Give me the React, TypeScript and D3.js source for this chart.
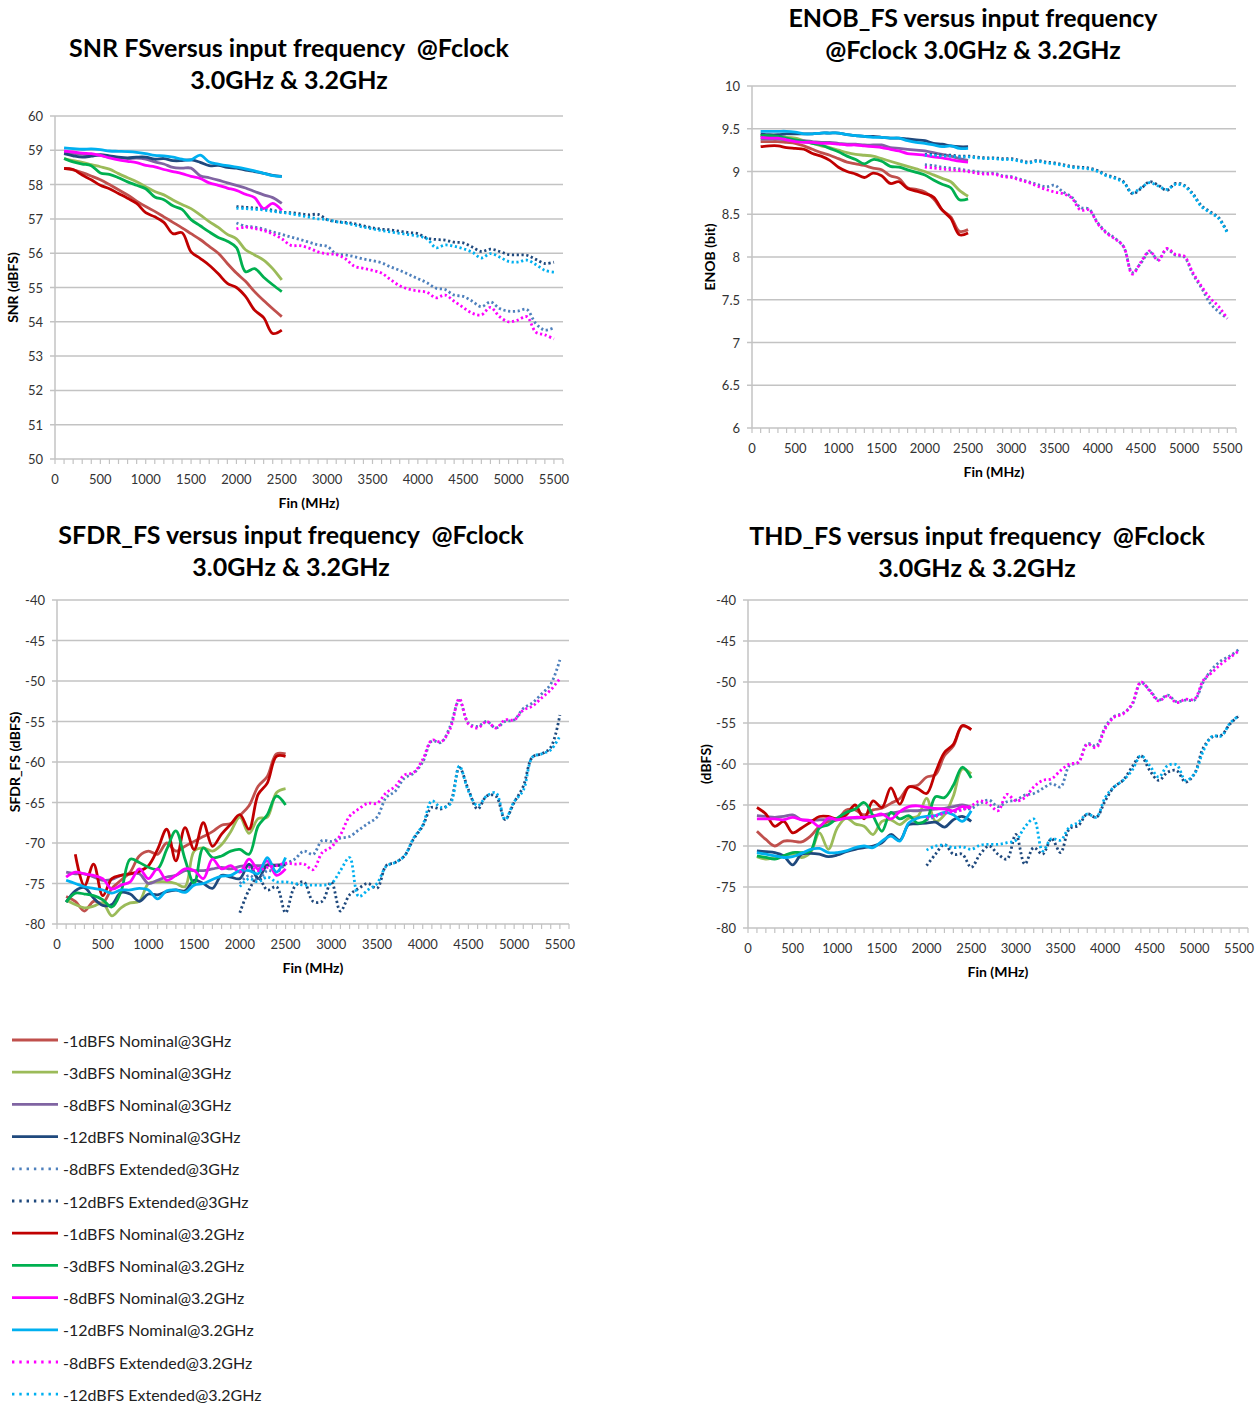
import React from 'react';
import * as d3 from 'd3';

// frequencies (MHz)
const FREQ_NOMINAL = [100, 200, 300, 400, 500, 600, 700, 800, 900, 1000, 1100, 1200, 1300, 1400, 1500, 1600, 1700, 1800, 1900, 2000, 2100, 2200, 2300, 2400, 2500];
const FREQ_EXTENDED = [2000, 2100, 2200, 2300, 2400, 2500, 2600, 2700, 2800, 2900, 3000, 3100, 3200, 3300, 3400, 3500, 3600, 3700, 3800, 3900, 4000, 4100, 4200, 4300, 4400, 4500, 4600, 4700, 4800, 4900, 5000, 5100, 5200, 5300, 5400, 5500];
const X_TICKS = [0, 500, 1000, 1500, 2000, 2500, 3000, 3500, 4000, 4500, 5000, 5500];

const SERIES_NAMES = [
  '-1dBFS Nominal@3GHz', '-3dBFS Nominal@3GHz', '-8dBFS Nominal@3GHz', '-12dBFS Nominal@3GHz',
  '-8dBFS Extended@3GHz', '-12dBFS Extended@3GHz',
  '-1dBFS Nominal@3.2GHz', '-3dBFS Nominal@3.2GHz', '-8dBFS Nominal@3.2GHz', '-12dBFS Nominal@3.2GHz',
  '-8dBFS Extended@3.2GHz', '-12dBFS Extended@3.2GHz',
];
const SERIES_EXTENDED = [false, false, false, false, true, true, false, false, false, false, true, true];
const SERIES_COLORS = ['#C0504D', '#9BBB59', '#8064A2', '#1F497D', '#4F81BD', '#1F497D', '#C00000', '#00B050', '#FF00FF', '#00B0F0', '#FF00FF', '#00B0F0'];

// SNR (dBFS), legend order
const snrValues = [
  [58.47, 58.43, 58.35, 58.25, 58.14, 58.0, 57.85, 57.7, 57.52, 57.36, 57.22, 57.06, 56.9, 56.74, 56.57, 56.4, 56.2, 56.0, 55.7, 55.42, 55.18, 54.88, 54.62, 54.38, 54.15],
  [58.76, 58.7, 58.65, 58.58, 58.52, 58.45, 58.32, 58.2, 58.08, 57.94, 57.8, 57.7, 57.55, 57.42, 57.3, 57.12, 56.92, 56.75, 56.55, 56.42, 56.1, 55.95, 55.8, 55.55, 55.22],
  [58.93, 58.9, 58.88, 58.87, 58.85, 58.8, 58.78, 58.76, 58.77, 58.74, 58.66, 58.6, 58.5, 58.48, 58.48, 58.26, 58.2, 58.13, 58.05, 57.98, 57.9, 57.8, 57.7, 57.62, 57.45],
  [58.9, 58.84, 58.8, 58.83, 58.87, 58.84, 58.8, 58.78, 58.8, 58.8, 58.74, 58.76, 58.7, 58.7, 58.72, 58.65, 58.55, 58.56, 58.5, 58.48, 58.42, 58.38, 58.33, 58.27, 58.24],
  [56.88, 56.79, 56.76, 56.7, 56.62, 56.55, 56.47, 56.4, 56.32, 56.24, 56.2, 55.98, 55.95, 55.9, 55.83, 55.78, 55.72, 55.6, 55.5, 55.38, 55.26, 55.14, 54.98, 54.94, 54.78, 54.74, 54.6, 54.44, 54.58, 54.39, 54.31, 54.31, 54.36, 53.95, 53.76, 53.83],
  [57.36, 57.34, 57.32, 57.3, 57.25, 57.2, 57.18, 57.15, 57.12, 57.13, 56.98, 56.92, 56.9, 56.86, 56.8, 56.74, 56.7, 56.68, 56.64, 56.6, 56.57, 56.44, 56.4, 56.38, 56.32, 56.3, 56.18, 56.05, 56.12, 56.05, 55.96, 55.95, 55.94, 55.82, 55.7, 55.74],
  [58.47, 58.44, 58.28, 58.14, 57.98, 57.88, 57.74, 57.6, 57.45, 57.18, 57.06, 56.9, 56.57, 56.6, 56.04, 55.85, 55.65, 55.4, 55.12, 55.0, 54.74, 54.34, 54.12, 53.66, 53.76],
  [58.76, 58.66, 58.6, 58.55, 58.34, 58.3, 58.2, 58.08, 57.98, 57.88, 57.64, 57.56, 57.38, 57.28, 56.98, 56.8, 56.62, 56.46, 56.35, 56.16, 55.46, 55.55, 55.3, 55.08, 54.88],
  [58.98, 58.95, 58.92, 58.9, 58.85, 58.78, 58.72, 58.68, 58.64, 58.56, 58.52, 58.44, 58.38, 58.32, 58.24, 58.18, 58.05, 57.98, 57.9, 57.83, 57.72, 57.62, 57.3, 57.45, 57.25],
  [59.07, 59.05, 59.03, 59.04, 59.02, 58.98, 58.97, 58.96, 58.94, 58.9, 58.85, 58.84, 58.8, 58.74, 58.72, 58.86, 58.66, 58.6, 58.55, 58.51, 58.46, 58.4, 58.33, 58.26, 58.23],
  [56.71, 56.76, 56.72, 56.66, 56.56, 56.42, 56.23, 56.22, 56.15, 56.04, 55.98, 55.96, 55.84, 55.62, 55.56, 55.5, 55.42, 55.23, 55.05, 54.95, 54.9, 54.86, 54.7, 54.78, 54.6, 54.42, 54.25, 54.2, 54.42, 54.15, 54.0, 54.05, 54.15, 53.7, 53.62, 53.5],
  [57.31, 57.3, 57.28, 57.26, 57.22, 57.19, 57.15, 57.1, 57.05, 57.0, 56.98, 56.92, 56.88, 56.82, 56.76, 56.71, 56.66, 56.62, 56.58, 56.54, 56.5, 56.42, 56.16, 56.24, 56.2, 56.13, 56.03, 55.86, 55.99, 55.89, 55.76, 55.74, 55.8, 55.67, 55.5, 55.45],
];

// ENOB (bit)
const enobValues = [
  [9.35, 9.35, 9.35, 9.34, 9.33, 9.3, 9.26, 9.22, 9.19, 9.15, 9.11, 9.09, 9.07, 9.04, 9.02, 8.95, 8.92, 8.81, 8.79, 8.76, 8.68, 8.55, 8.47, 8.3, 8.32],
  [9.42, 9.41, 9.4, 9.4, 9.39, 9.36, 9.33, 9.3, 9.28, 9.25, 9.22, 9.2, 9.19, 9.18, 9.15, 9.12, 9.09, 9.06, 9.03, 9.0, 8.96, 8.92, 8.88, 8.78, 8.71],
  [9.38, 9.38, 9.38, 9.37, 9.36, 9.36, 9.35, 9.34, 9.34, 9.33, 9.32, 9.32, 9.31, 9.31, 9.31, 9.28, 9.27, 9.26, 9.25, 9.24, 9.22, 9.2, 9.18, 9.15, 9.13],
  [9.44, 9.43, 9.43, 9.44, 9.44, 9.44, 9.44, 9.45, 9.45, 9.45, 9.43, 9.42, 9.41, 9.41, 9.4, 9.39, 9.39, 9.38, 9.37, 9.36, 9.33, 9.32, 9.3, 9.29, 9.29],
  [9.08, 9.07, 9.05, 9.04, 9.03, 9.01, 9.0, 8.98, 8.98, 8.95, 8.94, 8.91, 8.88, 8.85, 8.82, 8.84, 8.76, 8.7, 8.58, 8.56, 8.4, 8.29, 8.22, 8.12, 7.82, 7.93, 8.06, 7.97, 8.09, 8.02, 8.0, 7.8, 7.64, 7.46, 7.36, 7.28],
  [9.2, 9.2, 9.19, 9.19, 9.18, 9.18, 9.17, 9.16, 9.16, 9.15, 9.15, 9.13, 9.11, 9.13, 9.11, 9.1, 9.08, 9.06, 9.05, 9.04, 9.01, 8.96, 8.93, 8.88, 8.74, 8.8, 8.88, 8.84, 8.78, 8.86, 8.84, 8.74, 8.6, 8.53, 8.46, 8.29],
  [9.29, 9.3, 9.3, 9.28, 9.27, 9.26, 9.21, 9.18, 9.13, 9.05, 9.0, 8.97, 8.93, 8.98, 8.95, 8.86, 8.88, 8.8, 8.77, 8.74, 8.7, 8.55, 8.45, 8.26, 8.28],
  [9.42, 9.42, 9.41, 9.39, 9.37, 9.35, 9.33, 9.31, 9.27, 9.23, 9.18, 9.14, 9.09, 9.14, 9.12, 9.06, 9.05, 9.02, 8.99, 8.96, 8.9, 8.85, 8.81, 8.67, 8.68],
  [9.4, 9.39, 9.39, 9.37, 9.35, 9.34, 9.34, 9.33, 9.33, 9.32, 9.31, 9.31, 9.3, 9.29, 9.28, 9.26, 9.24, 9.21, 9.2, 9.19, 9.17, 9.16, 9.14, 9.12, 9.11],
  [9.47, 9.47, 9.47, 9.47, 9.46, 9.44, 9.44, 9.45, 9.45, 9.45, 9.43, 9.42, 9.41, 9.4, 9.4, 9.39, 9.39, 9.36, 9.34, 9.33, 9.31, 9.29, 9.3, 9.27, 9.27],
  [9.05, 9.04, 9.03, 9.02, 9.01, 9.0, 8.98, 8.97, 8.97, 8.94, 8.93, 8.9, 8.87, 8.83, 8.79, 8.76, 8.74, 8.69, 8.55, 8.55, 8.39, 8.28, 8.21, 8.12, 7.8, 7.94, 8.07, 7.96, 8.1, 8.03, 8.01, 7.82, 7.66, 7.52, 7.42, 7.28],
  [9.19, 9.19, 9.18, 9.18, 9.17, 9.17, 9.16, 9.15, 9.15, 9.14, 9.14, 9.12, 9.1, 9.12, 9.1, 9.09, 9.07, 9.05, 9.04, 9.03, 9.0, 8.95, 8.92, 8.87, 8.75, 8.81, 8.87, 8.83, 8.79, 8.85, 8.83, 8.73, 8.59, 8.52, 8.45, 8.28],
];

// SFDR_FS (dBFS)
const sfdrValues = [
  [-76.6, -77.2, -78.4, -77.2, -77.4, -75.6, -74.6, -73.6, -71.6, -71.0, -71.4, -70.0, -71.0, -70.4, -69.8, -69.2, -68.6, -67.8, -67.6, -66.6, -65.4, -63.0, -61.8, -59.0, -59.0],
  [-77.0, -77.6, -78.0, -77.8, -77.4, -79.0, -78.0, -77.4, -77.2, -75.0, -74.8, -74.8, -75.0, -75.4, -71.0, -70.6, -71.0, -70.2, -68.6, -66.8, -68.8, -67.0, -66.8, -63.8, -63.3],
  [-73.6, -73.8, -73.8, -74.2, -74.6, -74.5, -74.0, -73.8, -73.8, -75.0, -74.6, -74.2, -74.0, -73.4, -73.4, -73.4, -73.2, -73.0, -73.2, -72.9, -72.8, -72.8, -72.8, -72.7, -72.6],
  [-77.3, -75.9, -75.5, -76.8, -77.7, -77.6, -76.1, -76.3, -77.2, -76.3, -76.4, -76.0, -75.8, -75.9, -74.6, -75.0, -75.6, -74.0, -74.2, -74.4, -72.6, -74.4, -72.7, -72.8, -72.7],
  [-75.0, -74.0, -74.6, -73.4, -73.6, -72.6, -72.0, -71.0, -71.4, -69.7, -69.8, -69.4, -69.2, -68.4, -67.6, -66.8, -64.4, -63.6, -62.0, -61.4, -60.0, -57.4, -57.6, -55.6, -52.4, -55.2, -55.6, -55.0, -55.8, -55.0, -54.8, -53.4, -52.7, -51.6, -50.4, -47.4],
  [-78.6, -75.8, -74.2, -75.8, -75.4, -78.6, -75.4, -74.8, -77.2, -77.2, -74.8, -78.4, -76.4, -75.6, -75.0, -75.6, -72.8, -72.4, -71.6, -69.5, -67.9, -65.6, -65.8, -65.0, -60.7, -63.4, -65.8, -64.2, -64.2, -67.1, -65.0, -63.0, -59.4, -59.0, -58.2, -54.2],
  [null, -71.4, -75.3, -72.6, -76.5, -74.4, -74.0, -73.8, -73.5, -72.8, -70.8, -68.3, -72.2, -68.1, -70.8, -67.5, -70.4, -68.9, -67.7, -66.5, -68.3, -64.0, -62.6, -59.3, -59.3],
  [-77.3, -76.2, -76.3, -76.5, -77.0, -77.9, -76.0, -72.0, -72.4, -73.0, -73.2, -70.8, -68.5, -72.0, -75.0, -70.6, -71.8, -71.6, -71.0, -70.8, -71.4, -67.9, -66.5, -64.2, -65.3],
  [-74.2, -73.6, -73.8, -74.0, -74.4, -75.7, -75.2, -74.8, -73.2, -74.4, -73.2, -74.6, -74.0, -73.2, -73.4, -74.4, -72.0, -73.2, -72.8, -73.6, -72.0, -73.2, -72.2, -74.0, -73.2],
  [-74.6, -75.0, -75.4, -75.6, -75.8, -76.2, -75.8, -75.8, -75.6, -75.8, -76.9, -75.9, -75.8, -76.1, -75.2, -75.0, -74.5, -74.1, -74.0, -73.4, -73.4, -73.8, -71.8, -73.6, -71.8],
  [-73.6, -73.0, -73.4, -73.0, -72.8, -72.5, -72.6, -72.6, -73.3, -71.2, -70.5, -69.0, -66.7, -65.8, -65.1, -65.1, -63.8, -63.0, -61.6, -61.3, -59.7, -57.3, -57.5, -55.9, -52.2, -55.3, -55.8, -55.0, -55.8, -54.8, -54.8, -53.6, -53.1, -52.1, -51.1, -49.7],
  [-75.4, -74.4, -74.8, -74.2, -74.8, -74.8, -75.0, -75.2, -75.2, -75.2, -75.0, -73.4, -71.8, -76.6, -75.8, -75.0, -72.9, -72.4, -71.6, -69.4, -67.8, -64.8, -65.6, -65.2, -60.5, -63.6, -65.4, -64.2, -63.8, -67.1, -64.9, -63.5, -59.4, -59.0, -58.5, -56.8],
];

// THD_FS (dBFS)
const thdValues = [
  [-68.2, -69.2, -70.0, -69.4, -69.4, -69.5, -68.8, -67.6, -67.0, -66.8, -65.6, -65.6, -66.2, -65.6, -65.4, -64.8, -64.2, -62.8, -62.6, -61.6, -61.3, -59.0, -57.8, -55.4, -55.8],
  [-71.3, -71.6, -71.4, -71.2, -71.0, -71.4, -70.8, -68.4, -70.4, -67.8, -66.6, -67.3, -67.6, -68.6, -67.0, -66.8, -67.4, -66.6, -66.4, -64.2, -67.0, -66.2, -63.9, -60.6, -61.2],
  [-66.3, -66.4, -66.5, -66.4, -66.2, -66.8, -66.9, -66.8, -66.8, -66.7, -66.6, -66.6, -66.5, -66.3, -66.2, -66.0, -65.8, -65.7, -65.7, -65.6, -65.5, -65.4, -65.2, -65.0, -65.3],
  [-70.6, -70.7, -70.8, -71.2, -72.3, -71.0, -70.9, -71.0, -71.3, -71.1, -70.7, -70.4, -70.2, -70.0, -69.6, -68.6, -69.3, -67.4, -67.3, -67.2, -67.1, -67.7, -66.8, -66.4, -67.0],
  [-66.8, -66.4, -66.0, -65.9, -65.5, -65.4, -64.8, -64.4, -65.2, -64.6, -64.4, -63.8, -63.6, -63.0, -62.4, -62.8, -60.2, -59.8, -57.5, -57.8, -55.5, -54.2, -53.8, -52.8, -50.1, -51.0, -52.2, -51.6, -52.4, -52.2, -52.2, -50.0, -48.4, -47.4, -46.8, -46.0],
  [-72.4, -71.0, -69.8, -71.0, -71.0, -72.6, -71.0, -70.0, -71.0, -71.6, -68.6, -72.2, -70.2, -71.0, -69.1, -70.8, -67.9, -67.5, -66.1, -66.5, -64.5, -62.8, -62.0, -60.4, -59.0, -60.8, -62.0, -61.0, -60.8, -62.2, -61.2, -58.0, -56.7, -56.5, -55.1, -54.1],
  [-65.3, -66.1, -67.6, -67.0, -68.4, -67.8, -67.1, -66.4, -66.4, -66.7, -66.2, -65.0, -66.7, -64.5, -65.3, -62.9, -64.9, -62.8, -63.0, -63.6, -61.0, -58.6, -57.6, -55.3, -55.8],
  [-71.2, -71.4, -71.6, -71.2, -70.8, -70.8, -70.6, -67.8, -67.4, -66.6, -65.9, -65.5, -64.7, -66.3, -68.2, -65.9, -66.7, -66.3, -67.2, -66.8, -64.0, -64.1, -62.6, -60.4, -61.7],
  [-66.7, -66.7, -66.7, -66.8, -66.5, -66.8, -66.9, -67.6, -66.6, -66.8, -66.6, -66.5, -66.5, -66.4, -66.1, -66.7, -65.8, -65.2, -65.1, -65.3, -65.4, -65.5, -65.7, -65.2, -65.4],
  [-70.8, -71.0, -71.2, -71.4, -71.3, -70.9, -70.4, -70.3, -70.8, -70.8, -70.6, -70.2, -70.0, -70.2, -69.4, -68.8, -69.4, -67.2, -66.6, -66.4, -66.3, -65.9, -66.2, -67.0, -65.7],
  [-66.6, -66.3, -66.0, -65.8, -65.6, -65.1, -64.5, -64.9, -65.7, -63.7, -64.5, -64.1, -62.8, -62.0, -61.8, -60.8, -60.0, -59.8, -57.6, -58.0, -55.7, -54.3, -53.9, -52.7, -50.0, -51.1, -52.3, -51.7, -52.5, -52.1, -52.1, -49.8, -48.8, -47.8, -47.0, -46.2],
  [-70.5, -70.0, -69.9, -70.2, -70.1, -70.4, -69.9, -69.8, -69.8, -69.6, -69.3, -67.7, -66.7, -70.6, -69.1, -69.3, -67.7, -67.1, -66.1, -66.5, -64.1, -62.8, -62.0, -60.8, -59.0, -60.2, -61.6, -60.2, -60.1, -62.0, -61.2, -58.4, -56.6, -56.6, -55.0, -54.1],
];

const snrTicks = [50, 51, 52, 53, 54, 55, 56, 57, 58, 59, 60];
const enobTicks = [6, 6.5, 7, 7.5, 8, 8.5, 9, 9.5, 10];
const dbTicks = [-80, -75, -70, -65, -60, -55, -50, -45, -40];

const FONT = 'Lato, "Open Sans", sans-serif';
const GRID = '#c3c3c3';

type ChartProps = {
  left: number; right: number; top: number; bottom: number;
  yDomain: [number, number]; yTicks: number[]; yLabel: string;
  title: string[]; titleX: number; titleY: number;
  values: (number | null)[][];
};

function Chart(p: ChartProps) {
  const x = d3.scaleLinear().domain([0, 5600]).range([p.left, p.right]);
  const y = d3.scaleLinear().domain(p.yDomain).range([p.bottom, p.top]);
  const line = d3.line<[number, number | null]>()
    .defined(d => d[1] !== null)
    .x(d => x(d[0]))
    .y(d => y(d[1] as number))
    .curve(d3.curveCatmullRom);
  const minor = d3.range(0, 5601, 100);
  return (
    <g>
      {p.title.map((t, i) => (
        <text key={i} x={p.titleX} y={p.titleY + i * 32} textAnchor="middle" dominantBaseline="central"
          fontFamily={FONT} fontWeight={700} fontSize={25} fill="#000" style={{ whiteSpace: 'pre' }}>{t}</text>
      ))}
      {p.yTicks.map(t => (
        <g key={t}>
          <line x1={p.left - 5} x2={p.right} y1={y(t)} y2={y(t)} stroke={GRID} strokeWidth={1.5} />
          <text x={p.left - 12} y={y(t)} textAnchor="end" dominantBaseline="central"
            fontFamily={FONT} fontSize={13} fill="#333">{String(t)}</text>
        </g>
      ))}
      <line x1={p.left} x2={p.left} y1={p.top} y2={p.bottom} stroke={GRID} strokeWidth={1.5} />
      {minor.map(t => (
        <line key={t} x1={x(t)} x2={x(t)} y1={p.bottom} y2={p.bottom + 5} stroke={GRID} strokeWidth={1.2} />
      ))}
      {X_TICKS.map(t => (
        <text key={t} x={x(t)} y={p.bottom + 20} textAnchor="middle" dominantBaseline="central"
          fontFamily={FONT} fontSize={13} fill="#333">{String(t)}</text>
      ))}
      <text x={(p.left + p.right) / 2} y={p.bottom + 43} textAnchor="middle" dominantBaseline="central"
        fontFamily={FONT} fontWeight={700} fontSize={14} fill="#000">Fin (MHz)</text>
      <text transform={`translate(${p.left - 43},${(p.top + p.bottom) / 2}) rotate(-90)`} textAnchor="middle"
        dominantBaseline="central" fontFamily={FONT} fontWeight={700} fontSize={14} fill="#000">{p.yLabel}</text>
      {p.values.map((vals, i) => {
        const freqs = SERIES_EXTENDED[i] ? FREQ_EXTENDED : FREQ_NOMINAL;
        const pts = freqs.map((f, j) => [f, vals[j]] as [number, number | null]);
        return (
          <path key={i} d={line(pts) || ''} fill="none" stroke={SERIES_COLORS[i]} strokeWidth={2.8}
            strokeDasharray={SERIES_EXTENDED[i] ? '2.2 2.6' : undefined} strokeLinejoin="round" />
        );
      })}
    </g>
  );
}

export default function App() {
  return (
    <svg width={1260} height={1405} style={{ display: 'block', position: 'absolute', left: 0, top: 0 }}>
      <rect width={1260} height={1405} fill="#fff" />
      <Chart left={55} right={563} top={116} bottom={459} yDomain={[50, 60]} yTicks={snrTicks} yLabel="SNR (dBFS)"
        title={['SNR FSversus input frequency  @Fclock', '3.0GHz & 3.2GHz']} titleX={289} titleY={47} values={snrValues} />
      <Chart left={752} right={1236} top={86} bottom={428} yDomain={[6, 10]} yTicks={enobTicks} yLabel="ENOB (bit)"
        title={['ENOB_FS versus input frequency', '@Fclock 3.0GHz & 3.2GHz']} titleX={973} titleY={17} values={enobValues} />
      <Chart left={57} right={569} top={600} bottom={924} yDomain={[-80, -40]} yTicks={dbTicks} yLabel="SFDR_FS (dBFS)"
        title={['SFDR_FS versus input frequency  @Fclock', '3.0GHz & 3.2GHz']} titleX={291} titleY={534} values={sfdrValues} />
      <Chart left={748} right={1248} top={600} bottom={928} yDomain={[-80, -40]} yTicks={dbTicks} yLabel="(dBFS)"
        title={['THD_FS versus input frequency  @Fclock', '3.0GHz & 3.2GHz']} titleX={977} titleY={535} values={thdValues} />
      {SERIES_NAMES.map((name, i) => {
        const yy = 1040 + i * 32.2;
        return (
          <g key={name}>
            <line x1={12} x2={58} y1={yy} y2={yy} stroke={SERIES_COLORS[i]} strokeWidth={2.8}
              strokeDasharray={SERIES_EXTENDED[i] ? '2.4 4.9' : undefined} />
            <text x={63} y={yy} dominantBaseline="central" fontFamily={FONT} fontSize={16} fill="#222">{name}</text>
          </g>
        );
      })}
    </svg>
  );
}
